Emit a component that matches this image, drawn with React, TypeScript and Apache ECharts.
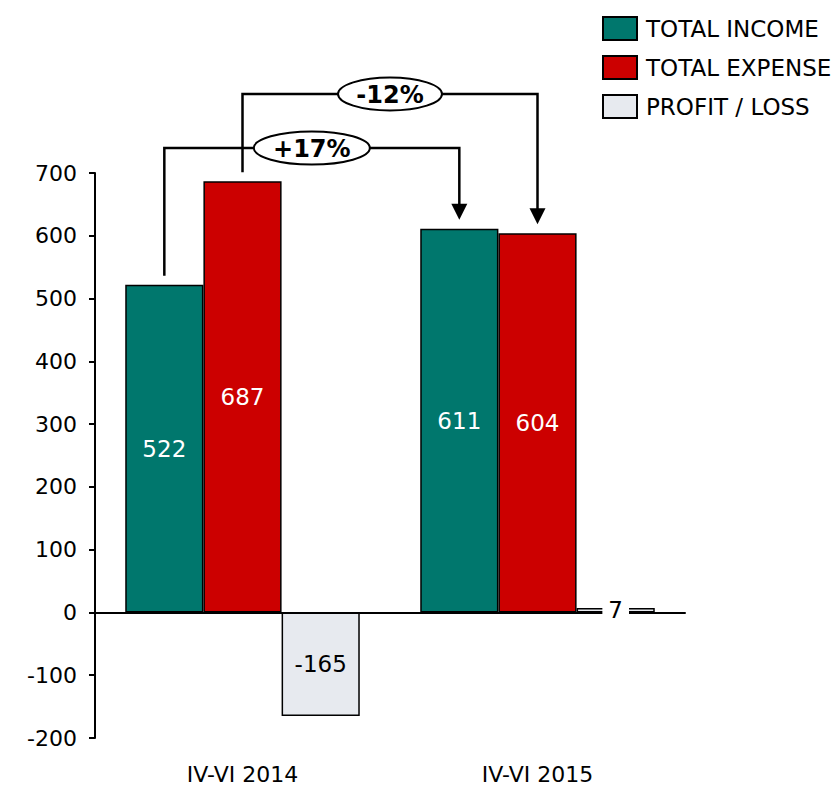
import React, { useEffect, useRef } from "react";
import * as echarts from "echarts";

const categories = ["IV-VI 2014", "IV-VI 2015"];
const seriesNames = ["TOTAL INCOME", "TOTAL EXPENSE", "PROFIT / LOSS"];
const income = [522, 611];
const expense = [687, 604];
const profit = [-165, 7];
const incomeChange = "+17%";
const expenseChange = "-12%";

const FONT = "DejaVu Sans, Verdana, sans-serif";
const COLORS = ["#00776D", "#CC0000", "#E7EAEF"];

export default function App() {
  const ref = useRef<HTMLDivElement>(null);

  useEffect(() => {
    if (!ref.current) return;
    const chart = echarts.init(ref.current, undefined, { renderer: "svg" });

    const barSeries = (name: string, data: any[], idx: number, labelColor: string) => ({
      type: "bar",
      name,
      data,
      xAxisIndex: 0,
      barGap: "0%",
      barCategoryGap: "20.5%",
      itemStyle: { color: COLORS[idx], borderColor: "#000", borderWidth: 1.5 },
      label: {
        show: true,
        position: "inside",
        color: labelColor,
        fontSize: 23,
        fontFamily: FONT,
      },
    });

    // Tiny bars get a white plate behind their label so it reads over the outline
    const profitData = profit.map((v) =>
      Math.abs(v) < 30
        ? { value: v, label: { backgroundColor: "#fff", padding: [0, 6] } }
        : v
    );

    chart.setOption({
      animation: false,
      textStyle: { fontFamily: FONT },
      grid: { left: 95, right: 152, top: 173, bottom: 47 },
      legend: {
        orient: "vertical",
        left: 597,
        top: 11,
        itemWidth: 34,
        itemHeight: 23,
        itemGap: 14,
        icon: "rect",
        selectedMode: false,
        itemStyle: { borderColor: "#000", borderWidth: 2 },
        textStyle: { fontSize: 23, color: "#000", fontFamily: FONT, padding: [0, 0, 0, 4] },
        data: seriesNames,
      },
      xAxis: [
        {
          type: "category",
          data: categories,
          axisLine: { onZero: true, lineStyle: { color: "#000", width: 2 } },
          axisTick: { show: false },
          axisLabel: { show: false },
        },
        {
          type: "category",
          data: categories,
          position: "bottom",
          axisLine: { show: false, onZero: false },
          axisTick: { show: false },
          axisLabel: { color: "#000", fontSize: 22, margin: 25, fontFamily: FONT },
        },
      ],
      yAxis: {
        type: "value",
        min: -200,
        max: 700,
        interval: 100,
        axisLine: { show: true, lineStyle: { color: "#000", width: 2 } },
        axisTick: { show: true, length: 6, lineStyle: { color: "#000", width: 2 } },
        splitLine: { show: false },
        axisLabel: { color: "#000", fontSize: 22, margin: 18, fontFamily: FONT },
      },
      series: [
        barSeries(seriesNames[0], income, 0, "#fff"),
        barSeries(seriesNames[1], expense, 1, "#fff"),
        barSeries(seriesNames[2], profitData, 2, "#000"),
      ],
    });

    // Bar geometry from the rendered layout
    const barBox = (si: number, di: number) => {
      const l = (chart as any).getModel().getSeriesByIndex(si).getData().getItemLayout(di);
      const top = Math.min(l.y, l.y + l.height);
      return { cx: l.x + l.width / 2, top };
    };

    const bracket = (si: number, level: number, text: string, rx: number) => {
      const a = barBox(si, 0);
      const b = barBox(si, 1);
      const startY = a.top - 9;
      const tipY = b.top - 9;
      const head = 16;
      const mid = (a.cx + b.cx) / 2;
      const lineStyle = { stroke: "#000", lineWidth: 2.5, fill: null };
      return [
        {
          type: "polyline",
          shape: {
            points: [
              [a.cx, startY],
              [a.cx, level],
              [b.cx, level],
              [b.cx, tipY - head + 1],
            ],
          },
          style: lineStyle,
          z: 10,
        },
        {
          type: "polygon",
          shape: {
            points: [
              [b.cx - 8, tipY - head],
              [b.cx + 8, tipY - head],
              [b.cx, tipY],
            ],
          },
          style: { fill: "#000" },
          z: 10,
        },
        {
          type: "ellipse",
          shape: { cx: mid, cy: level, rx, ry: 16.5 },
          style: { fill: "#fff", stroke: "#000", lineWidth: 2 },
          z: 11,
        },
        {
          type: "text",
          x: mid,
          y: level + 1,
          style: {
            text,
            align: "center",
            verticalAlign: "middle",
            fontSize: 24,
            fontWeight: "bold",
            fontFamily: FONT,
            fill: "#000",
          },
          z: 12,
        },
      ];
    };

    chart.setOption({
      graphic: [
        ...bracket(0, 148, incomeChange, 58),
        ...bracket(1, 94, expenseChange, 52),
      ],
    });

    return () => chart.dispose();
  }, []);

  return (
    <div
      ref={ref}
      style={{ position: "absolute", left: 0, top: 0, width: 837, height: 785 }}
    />
  );
}
